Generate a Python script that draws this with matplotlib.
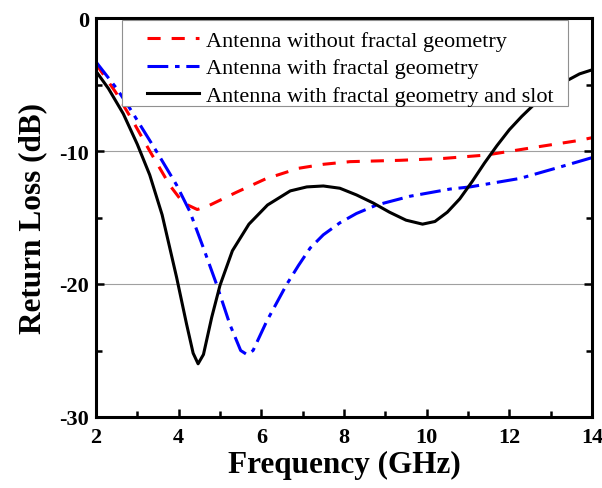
import numpy as np
import matplotlib.pyplot as plt
from matplotlib.patches import Rectangle
from matplotlib.ticker import MultipleLocator

# return loss curves (GHz, dB)
f_plain = [2.0, 2.48, 2.9, 3.3, 3.79, 4.11, 4.45, 4.7, 5.4, 6.1, 6.9, 7.5, 8.15, 9.36, 10.4, 11.45, 12.66, 13.7, 14.0]
rl_plain = [-3.45, -5.6, -7.8, -10.0, -12.6, -13.9, -14.4, -14.15, -13.1, -12.1, -11.3, -11.0, -10.8, -10.7, -10.56, -10.3, -9.7, -9.2, -9.0]

f_fractal = [2.0, 2.5, 2.82, 3.47, 3.95, 4.27, 4.6, 4.92, 5.24, 5.5, 5.65, 5.8, 6.13, 6.61, 6.9, 7.18, 7.5, 7.9, 8.3, 8.79, 9.6, 10.57, 11.05, 12.26, 13.23, 14.0]
rl_fractal = [-3.3, -5.3, -6.8, -10.06, -12.56, -14.55, -17.3, -20.05, -23.05, -25.0, -25.3, -25.0, -22.8, -20.05, -18.6, -17.3, -16.3, -15.4, -14.7, -14.06, -13.4, -12.86, -12.7, -12.06, -11.2, -10.5]

f_slot = [2.0, 2.3, 2.66, 3.0, 3.3, 3.6, 3.95, 4.19, 4.35, 4.47, 4.6, 4.8, 5.0, 5.3, 5.7, 6.15, 6.7, 7.1, 7.5, 7.9, 8.3, 8.7, 9.1, 9.5, 9.9, 10.2,
          10.5, 10.8, 11.1, 11.4, 11.7, 12.0, 12.3, 12.6, 13.0, 13.4, 13.7, 14.0]
rl_slot = [-4.0, -5.3, -7.2, -9.5, -11.8, -14.8, -19.5, -23.0, -25.2, -26.0, -25.3, -22.5, -20.1, -17.5, -15.5, -14.06, -13.0, -12.7, -12.63, -12.8, -13.3,
           -13.9, -14.6, -15.2, -15.5, -15.3, -14.6, -13.6, -12.3, -10.9, -9.6, -8.4, -7.4, -6.5, -5.5, -4.7, -4.2, -3.9]

labels = ['Antenna without fractal geometry',
          'Antenna with fractal geometry',
          'Antenna with fractal geometry and slot']

plt.rcParams['font.family'] = ['Liberation Serif', 'DejaVu Serif']
plt.rcParams['axes.unicode_minus'] = False

fig = plt.figure(figsize=(6.02, 4.89), dpi=100)
ax = fig.add_axes([96 / 602, 1 - 418 / 489, (592 - 96) / 602, (418 - 19) / 489])

ax.axhline(-10, color='#a0a0a0', lw=0.8, zorder=0)
ax.axhline(-20, color='#a0a0a0', lw=0.8, zorder=0)

ax.plot(f_plain, rl_plain, color='red', lw=2.2, dashes=(4.3, 3.6), label=labels[0])
ax.plot(f_fractal, rl_fractal, color='blue', lw=2.2, dashes=(6.8, 2.2, 1.5, 2.2), label=labels[1])
ax.plot(f_slot, rl_slot, color='black', lw=2.2, label=labels[2])

ax.set_xlim(2, 14)
ax.set_ylim(-30, 0)
ax.xaxis.set_major_locator(MultipleLocator(2))
ax.xaxis.set_minor_locator(MultipleLocator(1))
ax.yaxis.set_major_locator(MultipleLocator(10))
ax.yaxis.set_minor_locator(MultipleLocator(5))
ax.tick_params(which='both', direction='in', top=True, right=True, width=1.8)
ax.tick_params(which='major', length=6, labelsize=16)
ax.tick_params(which='minor', length=4)
ax.tick_params(axis='x', which='major', pad=7)
ax.tick_params(axis='y', which='major', pad=5)
for lbl in ax.get_xticklabels() + ax.get_yticklabels():
    lbl.set_fontweight('bold')
for sp in ax.spines.values():
    sp.set_linewidth(2.2)

ax.set_xlabel('Frequency (GHz)', fontsize=22.5, fontweight='bold', labelpad=2)
ax.set_ylabel('Return Loss (dB)', fontsize=22.5, fontweight='bold', labelpad=9)

# legend box drawn separately so the handles sit further in from its left edge
box = Rectangle((0.0524, 0.7794), 0.8992, 0.2156, transform=ax.transAxes,
                facecolor='white', edgecolor='#909090', lw=0.8, zorder=4)
ax.add_patch(box)
leg = ax.legend(loc='upper left', bbox_to_anchor=(0.1028, 0.969), borderaxespad=0,
                fontsize=16, frameon=False, handlelength=2.35, handletextpad=0.3,
                labelspacing=0.31, borderpad=0)
leg.set_zorder(5)

fig.savefig('out.png', dpi=100)
